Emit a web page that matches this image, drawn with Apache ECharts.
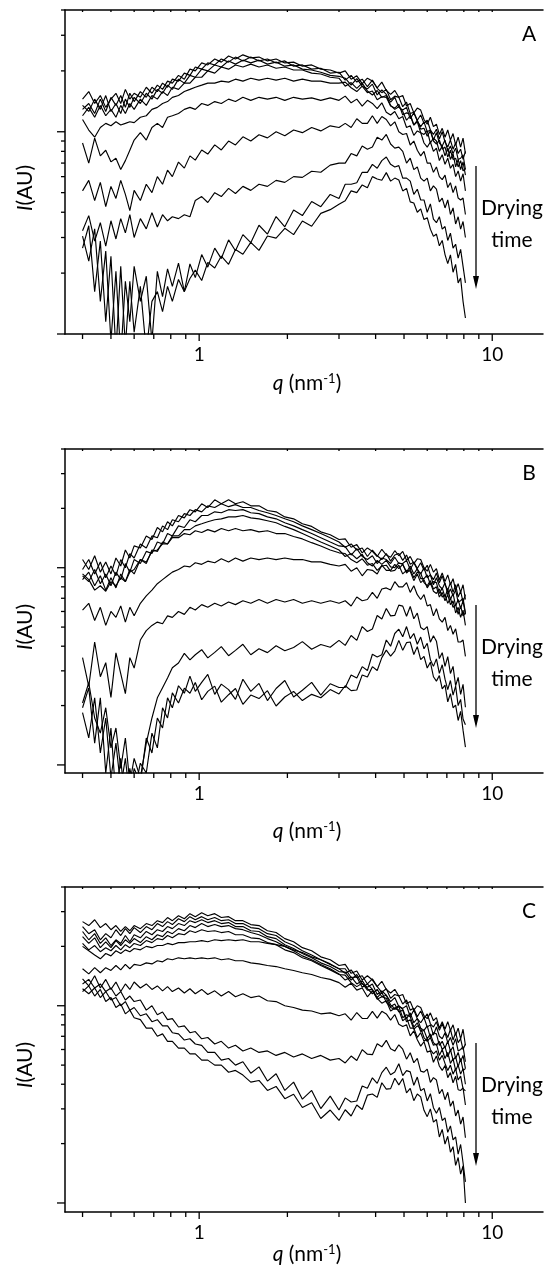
<!DOCTYPE html>
<html>
<head>
<meta charset="utf-8">
<title>Drying SAXS</title>
<script src="https://cdn.jsdelivr.net/npm/echarts@6/dist/echarts.min.js"></script>
<style>
  html, body { margin: 0; padding: 0; background: #fff; }
  #chart { width: 546px; height: 1272px; }
</style>
</head>
<body>
<div id="chart"></div>
<script>
// q 网格 (nm^-1)，所有曲线共用
const qGrid = [0.40,0.42,0.44,0.46,0.48,0.50,0.52,0.54,0.56,0.58,
  0.60,0.63,0.66,0.69,0.72,0.75,0.78,0.81,0.85,0.89,
  0.93,0.97,1.02,1.07,1.13,1.19,1.26,1.33,1.41,1.50,
  1.60,1.71,1.83,1.96,2.10,2.25,2.42,2.60,2.80,3.00,
  3.15,3.30,3.45,3.60,3.75,3.90,4.05,4.20,4.35,4.50,
  4.65,4.80,4.95,5.10,5.25,5.40,5.55,5.70,5.85,6.00,
  6.15,6.30,6.45,6.60,6.75,6.90,7.05,7.20,7.35,7.50,
  7.65,7.80,7.95,8.10];

// 图 A 强度 I(AU)
const a1 = [1.45,1.58,1.38,1.51,1.32,1.45,1.55,1.38,1.62,1.45,
  1.55,1.48,1.66,1.55,1.70,1.62,1.78,1.74,1.90,1.82,
  2.04,2.00,2.19,2.14,2.29,2.21,2.37,2.29,2.40,2.32,
  2.34,2.24,2.29,2.19,2.21,2.11,2.14,2.04,2.02,1.95,
  2.00,1.82,1.89,1.73,1.84,1.78,1.65,1.76,1.60,1.53,
  1.60,1.48,1.51,1.34,1.38,1.24,1.31,1.28,1.15,1.09,
  1.18,1.06,1.09,0.97,1.04,0.94,1.02,0.91,0.98,0.86,
  0.94,0.84,0.93,0.78];
const a2 = [1.29,1.38,1.23,1.45,1.26,1.48,1.35,1.51,1.32,1.55,
  1.41,1.58,1.48,1.66,1.58,1.74,1.66,1.82,1.78,1.95,
  1.90,2.09,2.04,2.19,2.14,2.29,2.21,2.34,2.24,2.34,
  2.24,2.29,2.19,2.24,2.11,2.14,2.04,2.06,1.95,1.97,
  1.80,1.90,1.76,1.82,1.67,1.80,1.64,1.56,1.62,1.44,
  1.50,1.48,1.33,1.40,1.23,1.25,1.14,1.21,1.10,1.14,
  1.02,0.97,1.03,0.92,1.00,0.89,0.84,0.91,0.82,0.88,
  0.78,0.82,0.73,0.80];
const a3 = [1.35,1.26,1.45,1.29,1.51,1.26,1.38,1.23,1.45,1.32,
  1.48,1.38,1.55,1.45,1.62,1.55,1.70,1.62,1.82,1.74,
  1.90,1.86,2.04,2.00,2.14,2.09,2.24,2.16,2.26,2.19,
  2.26,2.16,2.21,2.11,2.14,2.04,2.02,1.97,1.90,1.88,
  1.84,1.70,1.83,1.68,1.63,1.72,1.52,1.61,1.53,1.40,
  1.48,1.32,1.28,1.32,1.16,1.24,1.13,1.06,1.12,1.00,
  1.02,0.91,0.99,0.88,0.85,0.91,0.80,0.85,0.78,0.83,
  0.73,0.74,0.77,0.65];
const a4 = [1.20,1.32,1.18,1.35,1.20,1.29,1.18,1.35,1.23,1.38,
  1.29,1.45,1.35,1.51,1.45,1.58,1.51,1.66,1.62,1.74,
  1.74,1.86,1.86,2.00,1.95,2.09,2.04,2.14,2.09,2.16,
  2.09,2.14,2.06,2.09,2.02,2.02,1.95,1.93,1.86,1.84,
  1.68,1.75,1.64,1.74,1.59,1.52,1.60,1.48,1.51,1.35,
  1.29,1.33,1.26,1.14,1.20,1.08,1.12,0.99,0.97,1.01,
  0.88,0.93,0.90,0.80,0.85,0.76,0.83,0.73,0.78,0.67,
  0.73,0.65,0.71,0.61];
const a5 = [1.15,1.02,0.94,1.05,1.10,1.07,1.12,1.08,1.10,1.12,
  1.11,1.18,1.20,1.29,1.32,1.38,1.41,1.48,1.51,1.58,
  1.62,1.66,1.70,1.74,1.74,1.78,1.76,1.82,1.78,1.84,
  1.80,1.84,1.80,1.84,1.78,1.82,1.78,1.78,1.74,1.74,
  1.76,1.65,1.58,1.68,1.56,1.59,1.44,1.49,1.48,1.34,
  1.31,1.37,1.21,1.24,1.22,1.08,1.14,1.03,1.04,0.95,
  1.01,0.90,0.87,0.91,0.82,0.84,0.75,0.81,0.73,0.74,
  0.67,0.72,0.64,0.66];
const a6 = [0.88,0.70,0.93,0.76,0.81,0.71,0.74,0.65,0.72,0.81,
  0.91,0.99,0.91,1.05,1.10,1.05,1.18,1.20,1.23,1.29,
  1.32,1.29,1.38,1.35,1.41,1.38,1.45,1.41,1.48,1.43,
  1.48,1.45,1.48,1.43,1.48,1.45,1.47,1.43,1.47,1.43,
  1.50,1.39,1.45,1.34,1.43,1.38,1.30,1.39,1.25,1.21,
  1.26,1.16,1.19,1.05,1.07,0.96,1.01,0.99,0.88,0.84,
  0.89,0.80,0.83,0.72,0.77,0.69,0.74,0.66,0.69,0.60,
  0.64,0.57,0.62,0.51];
const a7 = [0.51,0.575,0.457,0.562,0.427,0.537,0.468,0.575,0.49,0.407,
  0.513,0.457,0.55,0.50,0.60,0.55,0.646,0.60,0.708,0.661,
  0.76,0.724,0.813,0.776,0.861,0.813,0.90,0.861,0.944,0.90,
  0.966,0.933,1.00,0.955,1.02,0.99,1.05,1.01,1.07,1.05,
  1.10,1.05,1.16,1.10,1.10,1.20,1.10,1.19,1.15,1.07,
  1.12,1.00,0.97,0.98,0.86,0.90,0.81,0.76,0.80,0.70,
  0.70,0.63,0.67,0.60,0.58,0.61,0.53,0.56,0.50,0.54,
  0.47,0.46,0.47,0.39];
const a8 = [0.324,0.385,0.288,0.355,0.272,0.363,0.295,0.372,0.316,0.389,
  0.30,0.372,0.331,0.398,0.338,0.389,0.363,0.38,0.372,0.389,
  0.38,0.457,0.478,0.447,0.50,0.478,0.525,0.495,0.537,0.513,
  0.55,0.537,0.575,0.562,0.60,0.595,0.638,0.631,0.684,0.70,
  0.70,0.78,0.76,0.85,0.82,0.84,0.94,0.91,0.97,0.87,
  0.83,0.84,0.80,0.70,0.74,0.65,0.67,0.59,0.57,0.59,
  0.51,0.54,0.52,0.45,0.47,0.42,0.46,0.39,0.42,0.35,
  0.38,0.33,0.36,0.30];
const a9 = [0.305,0.229,0.331,0.145,0.257,0.092,0.204,0.077,0.182,0.115,
  0.216,0.145,0.193,0.092,0.204,0.153,0.21,0.172,0.224,0.162,
  0.222,0.19,0.247,0.214,0.266,0.236,0.292,0.258,0.31,0.283,
  0.345,0.312,0.381,0.339,0.41,0.385,0.452,0.426,0.49,0.468,
  0.55,0.55,0.56,0.63,0.63,0.69,0.66,0.72,0.75,0.69,
  0.67,0.68,0.59,0.59,0.57,0.49,0.52,0.46,0.46,0.40,
  0.44,0.37,0.355,0.38,0.33,0.34,0.29,0.315,0.266,0.278,
  0.237,0.262,0.216,0.179];
const a10 = [0.266,0.343,0.162,0.288,0.115,0.242,0.082,0.216,0.087,0.182,
  0.102,0.172,0.082,0.145,0.162,0.129,0.172,0.145,0.186,0.162,
  0.188,0.207,0.184,0.226,0.212,0.243,0.221,0.262,0.248,0.284,
  0.259,0.305,0.298,0.333,0.31,0.362,0.341,0.395,0.412,0.438,
  0.456,0.51,0.50,0.546,0.528,0.60,0.584,0.576,0.628,0.57,
  0.59,0.577,0.51,0.525,0.45,0.444,0.40,0.416,0.368,0.376,
  0.33,0.304,0.312,0.273,0.29,0.247,0.223,0.246,0.202,0.221,
  0.179,0.189,0.145,0.12];

// 图 B
const b1 = [1.10,0.98,1.15,0.95,1.07,0.93,1.12,1.02,1.23,1.12,
  1.29,1.26,1.45,1.39,1.60,1.52,1.71,1.63,1.84,1.79,
  1.97,1.92,2.11,2.02,2.21,2.11,2.21,2.11,2.16,2.06,
  2.06,1.95,1.92,1.81,1.77,1.67,1.62,1.52,1.47,1.39,
  1.40,1.27,1.31,1.19,1.26,1.21,1.14,1.24,1.16,1.13,
  1.22,1.15,1.21,1.09,1.14,1.05,1.11,1.10,1.00,0.96,
  1.04,0.95,0.99,0.87,0.94,0.85,0.92,0.82,0.88,0.77,
  0.83,0.75,0.82,0.69];
const b2 = [0.98,1.10,0.93,1.07,0.89,1.02,0.91,1.10,1.00,1.18,
  1.12,1.32,1.26,1.45,1.42,1.63,1.56,1.75,1.71,1.88,
  1.84,1.97,1.92,2.06,2.02,2.11,2.04,2.09,2.02,2.02,
  1.95,1.90,1.84,1.77,1.71,1.63,1.56,1.49,1.42,1.35,
  1.27,1.32,1.23,1.26,1.14,1.23,1.15,1.10,1.18,1.08,
  1.16,1.18,1.09,1.16,1.04,1.07,0.99,1.06,0.97,1.03,
  0.92,0.87,0.94,0.84,0.91,0.82,0.77,0.84,0.75,0.82,
  0.71,0.76,0.67,0.73];
const b3 = [0.91,0.85,0.98,0.83,0.93,0.81,0.95,0.87,1.05,0.95,
  1.10,1.05,1.21,1.18,1.35,1.32,1.49,1.45,1.63,1.60,
  1.75,1.71,1.84,1.84,1.92,1.90,1.97,1.95,1.97,1.90,
  1.88,1.81,1.77,1.69,1.63,1.56,1.49,1.42,1.35,1.29,
  1.28,1.16,1.25,1.14,1.10,1.15,1.05,1.12,1.10,1.05,
  1.13,1.05,1.05,1.09,0.98,1.06,0.98,0.93,1.00,0.89,
  0.92,0.82,0.89,0.81,0.78,0.84,0.73,0.78,0.72,0.77,
  0.67,0.68,0.70,0.59];
const b4 = [0.87,0.95,0.81,0.91,0.77,0.89,0.79,0.93,0.85,0.98,
  0.93,1.10,1.05,1.23,1.21,1.35,1.32,1.45,1.45,1.56,
  1.56,1.63,1.67,1.71,1.75,1.77,1.81,1.81,1.84,1.79,
  1.77,1.73,1.69,1.62,1.56,1.49,1.42,1.35,1.29,1.23,
  1.14,1.18,1.11,1.17,1.06,1.02,1.09,1.04,1.09,1.01,
  1.00,1.06,1.04,0.95,1.02,0.93,0.99,0.88,0.88,0.92,
  0.82,0.85,0.84,0.74,0.79,0.71,0.78,0.69,0.74,0.64,
  0.69,0.62,0.68,0.58];
const b5 = [0.93,0.87,0.77,0.81,0.76,0.85,0.81,0.89,0.85,0.95,
  0.98,1.10,1.07,1.21,1.23,1.32,1.32,1.42,1.42,1.49,
  1.47,1.54,1.51,1.56,1.52,1.58,1.54,1.58,1.54,1.56,
  1.52,1.54,1.49,1.49,1.44,1.40,1.34,1.29,1.23,1.19,
  1.18,1.10,1.06,1.11,1.03,1.05,0.97,1.02,1.03,0.96,
  0.97,1.03,0.93,0.97,0.96,0.86,0.93,0.84,0.87,0.79,
  0.84,0.76,0.74,0.78,0.71,0.73,0.66,0.70,0.63,0.65,
  0.58,0.64,0.57,0.59];
const b6 = [0.61,0.66,0.54,0.63,0.51,0.60,0.56,0.64,0.53,0.63,
  0.57,0.66,0.72,0.77,0.83,0.87,0.91,0.95,0.98,1.02,
  1.01,1.06,1.04,1.08,1.06,1.11,1.07,1.12,1.08,1.12,
  1.10,1.12,1.10,1.12,1.10,1.10,1.07,1.07,1.04,1.02,
  1.04,0.96,1.00,0.91,0.98,0.97,0.93,1.03,0.97,0.97,
  1.04,0.99,1.04,0.94,0.98,0.89,0.95,0.94,0.84,0.81,
  0.86,0.78,0.80,0.71,0.75,0.68,0.73,0.65,0.68,0.59,
  0.63,0.56,0.61,0.51];
const b7 = [0.35,0.25,0.42,0.28,0.33,0.22,0.37,0.29,0.23,0.35,
  0.31,0.43,0.48,0.51,0.53,0.52,0.57,0.56,0.60,0.58,
  0.63,0.61,0.65,0.63,0.66,0.64,0.67,0.65,0.68,0.66,
  0.69,0.66,0.69,0.67,0.69,0.66,0.68,0.66,0.68,0.66,
  0.68,0.64,0.71,0.68,0.69,0.75,0.70,0.78,0.79,0.77,
  0.85,0.80,0.80,0.84,0.75,0.81,0.73,0.69,0.73,0.64,
  0.65,0.57,0.62,0.55,0.53,0.56,0.48,0.51,0.46,0.49,
  0.42,0.42,0.43,0.355];
const b8 = [0.206,0.261,0.173,0.145,0.195,0.122,0.154,0.096,0.137,0.081,
  0.108,0.086,0.129,0.173,0.219,0.246,0.276,0.311,0.329,0.368,
  0.341,0.362,0.384,0.349,0.372,0.398,0.358,0.381,0.409,0.362,
  0.388,0.371,0.402,0.379,0.394,0.422,0.386,0.408,0.395,0.428,
  0.404,0.453,0.428,0.503,0.475,0.489,0.572,0.549,0.621,0.57,
  0.573,0.646,0.639,0.567,0.636,0.551,0.589,0.498,0.485,0.503,
  0.419,0.452,0.424,0.346,0.371,0.316,0.354,0.291,0.316,0.252,
  0.278,0.228,0.256,0.196];
const b9 = [0.184,0.137,0.219,0.115,0.173,0.086,0.129,0.077,0.108,0.068,
  0.096,0.081,0.137,0.115,0.173,0.154,0.219,0.195,0.252,0.231,
  0.282,0.236,0.262,0.288,0.228,0.257,0.241,0.215,0.272,0.236,
  0.259,0.212,0.244,0.268,0.221,0.239,0.262,0.226,0.258,0.247,
  0.247,0.286,0.276,0.315,0.301,0.364,0.353,0.362,0.43,0.40,
  0.464,0.488,0.447,0.503,0.437,0.464,0.409,0.445,0.388,0.414,
  0.342,0.316,0.345,0.291,0.322,0.272,0.241,0.268,0.226,0.251,
  0.20,0.215,0.171,0.16];
const b10 = [0.195,0.246,0.129,0.219,0.091,0.154,0.068,0.108,0.06,0.096,
  0.072,0.102,0.091,0.145,0.122,0.195,0.173,0.232,0.206,0.245,
  0.231,0.262,0.214,0.236,0.251,0.208,0.227,0.244,0.203,0.226,
  0.217,0.238,0.199,0.221,0.236,0.212,0.228,0.219,0.241,0.229,
  0.252,0.238,0.24,0.286,0.279,0.315,0.301,0.35,0.382,0.356,
  0.378,0.428,0.381,0.417,0.42,0.363,0.398,0.342,0.355,0.31,
  0.332,0.28,0.266,0.284,0.243,0.254,0.209,0.23,0.195,0.201,
  0.168,0.187,0.15,0.123];

// 图 C
const c1 = [2.67,2.55,2.73,2.49,2.61,2.43,2.55,2.38,2.52,2.40,
  2.55,2.46,2.61,2.55,2.70,2.64,2.80,2.70,2.86,2.76,
  2.93,2.83,2.96,2.86,2.93,2.80,2.83,2.70,2.70,2.58,
  2.55,2.40,2.35,2.19,2.11,1.97,1.90,1.77,1.71,1.60,
  1.62,1.46,1.50,1.35,1.42,1.35,1.25,1.33,1.21,1.16,
  1.21,1.12,1.14,1.02,1.05,0.95,1.00,0.98,0.89,0.86,
  0.92,0.84,0.87,0.77,0.83,0.76,0.83,0.75,0.80,0.71,
  0.77,0.68,0.76,0.63];
const c2 = [2.52,2.32,2.43,2.16,2.32,2.21,2.43,2.27,2.46,2.32,
  2.49,2.35,2.52,2.43,2.61,2.52,2.67,2.58,2.76,2.67,
  2.83,2.73,2.83,2.73,2.80,2.70,2.73,2.61,2.61,2.49,
  2.46,2.32,2.27,2.11,2.02,1.90,1.81,1.71,1.63,1.54,
  1.46,1.52,1.39,1.42,1.29,1.37,1.25,1.17,1.22,1.09,
  1.14,1.12,1.02,1.07,0.95,0.97,0.88,0.94,0.86,0.91,
  0.81,0.78,0.83,0.75,0.81,0.74,0.69,0.76,0.67,0.73,
  0.65,0.68,0.60,0.64];
const c3 = [2.38,2.16,2.32,2.07,2.21,2.02,2.16,2.07,2.27,2.11,
  2.29,2.21,2.38,2.29,2.43,2.38,2.52,2.46,2.61,2.55,
  2.70,2.64,2.73,2.64,2.70,2.61,2.64,2.52,2.52,2.40,
  2.38,2.24,2.19,2.04,1.95,1.84,1.75,1.65,1.58,1.49,
  1.48,1.35,1.44,1.29,1.24,1.29,1.14,1.19,1.13,1.05,
  1.10,0.99,0.97,1.00,0.88,0.95,0.86,0.82,0.87,0.78,
  0.80,0.71,0.78,0.70,0.68,0.73,0.65,0.69,0.63,0.68,
  0.59,0.60,0.62,0.52];
const c4 = [2.24,2.07,2.21,1.97,2.11,1.97,2.14,2.02,2.16,2.07,
  2.19,2.09,2.24,2.16,2.29,2.24,2.38,2.32,2.46,2.40,
  2.55,2.49,2.61,2.52,2.58,2.52,2.55,2.46,2.43,2.35,
  2.29,2.19,2.11,2.00,1.90,1.79,1.71,1.62,1.54,1.45,
  1.35,1.40,1.29,1.34,1.22,1.15,1.21,1.11,1.13,1.01,
  0.97,1.00,0.96,0.86,0.92,0.82,0.86,0.77,0.75,0.79,
  0.69,0.73,0.72,0.63,0.66,0.61,0.66,0.59,0.62,0.54,
  0.58,0.52,0.56,0.48];
const c5 = [2.07,1.92,2.02,1.88,1.97,1.90,2.02,1.92,2.04,1.97,
  2.07,2.02,2.14,2.09,2.19,2.16,2.27,2.21,2.32,2.29,
  2.40,2.35,2.43,2.38,2.40,2.35,2.38,2.29,2.29,2.21,
  2.19,2.09,2.04,1.92,1.86,1.75,1.69,1.60,1.52,1.44,
  1.43,1.31,1.25,1.30,1.20,1.21,1.08,1.11,1.09,0.98,
  0.96,0.99,0.87,0.90,0.88,0.78,0.82,0.74,0.75,0.68,
  0.72,0.65,0.63,0.66,0.60,0.62,0.55,0.60,0.53,0.55,
  0.49,0.54,0.47,0.48];
const c6 = [2.00,1.90,1.81,1.73,1.84,1.79,1.90,1.84,1.92,1.88,
  1.95,1.92,2.00,1.97,2.02,2.02,2.07,2.04,2.09,2.09,
  2.11,2.11,2.14,2.11,2.16,2.14,2.16,2.14,2.16,2.11,
  2.11,2.07,2.04,2.00,1.92,1.86,1.77,1.71,1.62,1.54,
  1.54,1.39,1.40,1.24,1.29,1.21,1.10,1.17,1.04,0.99,
  1.02,0.93,0.95,0.83,0.85,0.76,0.79,0.77,0.69,0.66,
  0.69,0.63,0.64,0.56,0.60,0.54,0.58,0.51,0.54,0.47,
  0.50,0.45,0.48,0.40];
const c7 = [1.54,1.45,1.56,1.47,1.56,1.51,1.60,1.52,1.62,1.54,
  1.62,1.60,1.65,1.63,1.69,1.67,1.73,1.71,1.75,1.73,
  1.75,1.73,1.75,1.73,1.75,1.71,1.73,1.69,1.69,1.65,
  1.63,1.60,1.58,1.54,1.51,1.47,1.44,1.39,1.36,1.31,
  1.24,1.30,1.20,1.23,1.11,1.19,1.09,1.03,1.06,0.94,
  0.97,0.95,0.84,0.87,0.77,0.77,0.69,0.73,0.66,0.68,
  0.60,0.57,0.59,0.53,0.56,0.51,0.47,0.50,0.45,0.48,
  0.42,0.44,0.38,0.37];
const c8 = [1.37,1.26,1.42,1.23,1.36,1.21,1.32,1.18,1.29,1.21,
  1.32,1.23,1.29,1.21,1.26,1.19,1.25,1.18,1.23,1.16,
  1.22,1.15,1.21,1.14,1.19,1.12,1.18,1.11,1.15,1.10,
  1.12,1.06,1.05,1.00,0.98,0.95,0.94,0.91,0.92,0.89,
  0.91,0.845,0.924,0.862,0.863,0.936,0.865,0.937,0.909,0.845,
  0.903,0.805,0.784,0.801,0.703,0.746,0.673,0.624,0.657,0.582,
  0.592,0.517,0.557,0.495,0.47,0.498,0.432,0.458,0.407,0.439,
  0.375,0.372,0.383,0.314];
const c9 = [1.29,1.36,1.23,1.29,1.18,1.23,1.12,1.18,1.07,1.12,
  1.05,1.07,0.95,1.00,0.90,0.93,0.85,0.86,0.78,0.79,
  0.73,0.74,0.68,0.69,0.64,0.66,0.61,0.63,0.59,0.61,
  0.58,0.59,0.56,0.58,0.55,0.57,0.54,0.56,0.53,0.54,
  0.513,0.556,0.528,0.599,0.568,0.565,0.641,0.619,0.668,0.605,
  0.589,0.634,0.602,0.536,0.578,0.514,0.541,0.466,0.461,0.477,
  0.409,0.432,0.42,0.358,0.377,0.334,0.364,0.309,0.329,0.276,
  0.296,0.251,0.273,0.214];
const c10 = [1.22,1.15,1.23,1.10,1.18,1.07,1.10,1.00,1.05,0.95,
  0.98,0.89,0.91,0.83,0.85,0.79,0.79,0.73,0.72,0.67,
  0.68,0.64,0.63,0.58,0.58,0.53,0.54,0.50,0.52,0.455,
  0.49,0.415,0.452,0.372,0.41,0.336,0.372,0.301,0.348,0.296,
  0.341,0.325,0.329,0.392,0.382,0.431,0.404,0.458,0.488,0.447,
  0.461,0.508,0.442,0.469,0.462,0.395,0.435,0.371,0.381,0.329,
  0.358,0.304,0.285,0.305,0.262,0.27,0.228,0.246,0.209,0.216,
  0.177,0.198,0.16,0.128];
const c11 = [1.18,1.26,1.12,1.21,1.05,1.10,0.98,1.02,0.91,0.95,
  0.87,0.85,0.77,0.77,0.70,0.72,0.66,0.66,0.61,0.61,
  0.57,0.57,0.53,0.53,0.50,0.50,0.46,0.47,0.445,0.41,
  0.418,0.372,0.39,0.338,0.356,0.305,0.322,0.268,0.296,0.262,
  0.297,0.276,0.314,0.298,0.352,0.357,0.343,0.407,0.378,0.38,
  0.429,0.397,0.428,0.362,0.381,0.33,0.357,0.345,0.295,0.274,
  0.30,0.257,0.265,0.216,0.236,0.199,0.218,0.181,0.193,0.155,
  0.17,0.14,0.154,0.10];

// 坐标轴刻度值
const xMajor = [1, 10];
const xMinor = [0.4, 0.5, 0.6, 0.7, 0.8, 0.9, 2, 3, 4, 5, 6, 7, 8, 9];
const yMajor = [0.1, 1];
const yMinor = [0.2, 0.3, 0.4, 0.5, 0.6, 0.7, 0.8, 0.9, 2, 3, 4];

const Q_MIN = 0.3485, Q_MAX = 14.9, I_MAX = 4;
const FONT = 'Lato';

const panels = [
  { name: 'A', top: 10, height: 324, yMin: 0.1, curves: [a1, a2, a3, a4, a5, a6, a7, a8, a9, a10], titleY: 383 },
  { name: 'B', top: 449, height: 324, yMin: 0.091, curves: [b1, b2, b3, b4, b5, b6, b7, b8, b9, b10], titleY: 831 },
  { name: 'C', top: 887, height: 325, yMin: 0.09, curves: [c1, c2, c3, c4, c5, c6, c7, c8, c9, c10, c11], titleY: 1254 }
];

const axisLineStyle = { color: '#000', width: 1.5 };

// 画刻度线
function tickRender (params, api) {
  const kind = api.value(2);
  const p = api.coord([api.value(0), api.value(1)]);
  let s;
  if (kind === 0) s = { x1: p[0], y1: p[1], x2: p[0], y2: p[1] + 7 };
  else if (kind === 1) s = { x1: p[0], y1: p[1], x2: p[0], y2: p[1] + 5 };
  else if (kind === 2) s = { x1: p[0] - 8, y1: p[1], x2: p[0], y2: p[1] };
  else if (kind === 3) s = { x1: p[0] - 4, y1: p[1], x2: p[0], y2: p[1] };
  else s = { x1: p[0], y1: p[1], x2: p[0], y2: p[1] + 2 };
  return { type: 'line', shape: s, style: { stroke: '#000', lineWidth: 1.3 } };
}

const grid = [], xAxis = [], yAxis = [], series = [], graphic = [];

panels.forEach((p, i) => {
  grid.push({ left: 65, right: 0, top: p.top, height: p.height });
  xAxis.push({
    type: 'log', gridIndex: i, min: Q_MIN, max: Q_MAX, logBase: 10,
    axisLine: { show: true, lineStyle: axisLineStyle },
    axisTick: { show: false },
    splitLine: { show: false },
    axisLabel: {
      color: '#000', fontSize: 19, fontFamily: FONT, margin: 11,
      formatter: function (v) {
        const e = Math.log10(v);
        return Math.abs(e - Math.round(e)) < 1e-6 ? String(Math.round(v)) : '';
      }
    }
  });
  xAxis.push({
    type: 'log', gridIndex: i, position: 'top', min: Q_MIN, max: Q_MAX, logBase: 10,
    axisLine: { show: true, lineStyle: axisLineStyle },
    axisTick: { show: false }, axisLabel: { show: false }, splitLine: { show: false }
  });
  yAxis.push({
    type: 'log', gridIndex: i, min: p.yMin, max: I_MAX, logBase: 10,
    axisLine: { show: true, lineStyle: axisLineStyle },
    axisTick: { show: false }, axisLabel: { show: false }, splitLine: { show: false }
  });

  p.curves.forEach(c => {
    series.push({
      type: 'line', xAxisIndex: 2 * i, yAxisIndex: i,
      data: qGrid.map((q, k) => [q, c[k]]),
      showSymbol: false, symbol: 'none', silent: true,
      lineStyle: { color: '#000', width: 1.15 }
    });
  });

  const ticks = [];
  xMajor.forEach(v => { ticks.push([v, p.yMin, 0]); ticks.push([v, I_MAX, 4]); });
  xMinor.forEach(v => { ticks.push([v, p.yMin, 1]); ticks.push([v, I_MAX, 4]); });
  yMajor.filter(v => v >= p.yMin).forEach(v => ticks.push([Q_MIN, v, 2]));
  yMinor.forEach(v => ticks.push([Q_MIN, v, 3]));
  series.push({
    type: 'custom', xAxisIndex: 2 * i, yAxisIndex: i, silent: true,
    renderItem: tickRender, data: ticks, z: 5
  });

  // 文字和箭头
  const t = p.top;
  graphic.push({ type: 'text', x: 529, y: t + 24,
    style: { text: p.name, fontSize: 21, fontFamily: FONT, fill: '#000', align: 'center', verticalAlign: 'middle', textAlign: 'center', textVerticalAlign: 'middle' } });
  graphic.push({ type: 'text', x: 512, y: t + 198,
    style: { text: 'Drying', fontSize: 21, fontFamily: FONT, fill: '#000', align: 'center', verticalAlign: 'middle', textAlign: 'center', textVerticalAlign: 'middle' } });
  graphic.push({ type: 'text', x: 512, y: t + 230,
    style: { text: 'time', fontSize: 21, fontFamily: FONT, fill: '#000', align: 'center', verticalAlign: 'middle', textAlign: 'center', textVerticalAlign: 'middle' } });
  graphic.push({ type: 'line', shape: { x1: 476, y1: t + 156, x2: 476, y2: t + 270 },
    style: { stroke: '#000', lineWidth: 1.3 } });
  graphic.push({ type: 'polygon', shape: { points: [[473, t + 266], [479, t + 266], [476, t + 279]] },
    style: { fill: '#000' } });
  graphic.push({ type: 'text', x: 25, y: t + 178, rotation: Math.PI / 2,
    style: {
      text: '{i|I}(AU)', fontSize: 21, fontFamily: FONT, fill: '#000',
      align: 'center', verticalAlign: 'middle', textAlign: 'center', textVerticalAlign: 'middle',
      rich: { i: { fontSize: 21, fontFamily: FONT, fontStyle: 'italic', fill: '#000' } }
    } });
  graphic.push({ type: 'text', x: 307, y: p.titleY,
    style: {
      text: '{i|q} (nm{s|-1})', fontSize: 21, fontFamily: FONT, fill: '#000',
      align: 'center', verticalAlign: 'middle', textAlign: 'center', textVerticalAlign: 'middle',
      rich: {
        i: { fontSize: 21, fontFamily: FONT, fontStyle: 'italic', fill: '#000' },
        s: { fontSize: 13, fontFamily: FONT, fill: '#000', verticalAlign: 'top' }
      }
    } });
});

const chart = echarts.init(document.getElementById('chart'), null, { renderer: 'canvas' });
chart.setOption({
  animation: false,
  backgroundColor: '#fff',
  grid: grid,
  xAxis: xAxis,
  yAxis: yAxis,
  series: series,
  graphic: graphic
});
</script>
</body>
</html>
